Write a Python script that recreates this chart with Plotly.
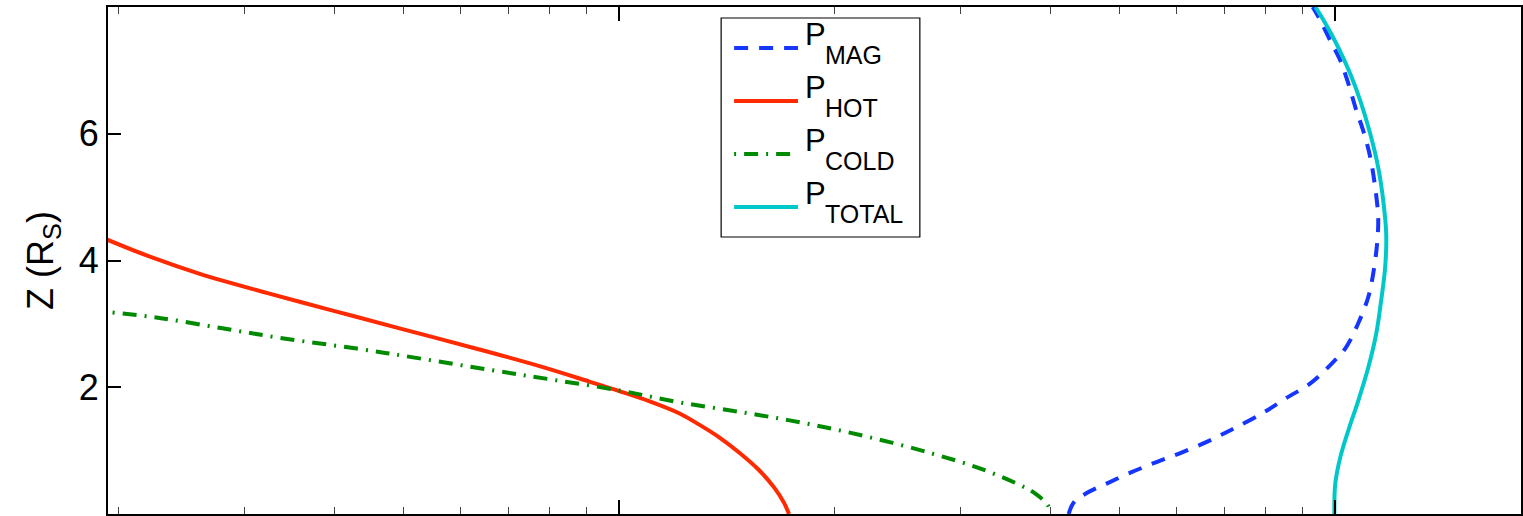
import plotly.graph_objects as go

# ---------------- data (pressure, arbitrary log units; z in R_S) ----------------
z_hot = [4.33, 4.06, 3.79, 3.49, 3.21, 2.93, 2.60, 2.33, 2.09, 1.94, 1.78, 1.59, 1.41, 1.21, 0.97,
         0.69, 0.42, 0.18, 0.0]
p_hot = [1.925e-4, 2.21e-4, 2.595e-4, 3.217e-4, 3.979e-4, 4.933e-4, 6.358e-4, 7.758e-4, 9.08e-4,
         1.00e-3, 1.101e-3, 1.212e-3, 1.293e-3, 1.379e-3, 1.470e-3, 1.568e-3, 1.645e-3, 1.698e-3, 1.726e-3]

z_cold = [3.18, 3.09, 2.93, 2.77, 2.61, 2.46, 2.27, 2.12, 1.95, 1.76, 1.59, 1.42, 1.21, 0.96, 0.72,
          0.48, 0.33, 0.14, 0.0]
p_cold = [1.96e-4, 2.29e-4, 2.79e-4, 3.40e-4, 4.30e-4, 5.23e-4, 6.63e-4, 8.06e-4, 1.00e-3, 1.216e-3,
          1.513e-3, 1.841e-3, 2.239e-3, 2.724e-3, 3.188e-3, 3.59e-3, 3.803e-3, 3.966e-3, 4.004e-3]

z_mag = [0.0, 0.18, 0.33, 0.48, 0.66, 0.82, 0.97, 1.15, 1.33, 1.60, 1.83, 2.06, 2.35, 2.61, 3.01,
         3.42, 3.80, 4.27, 4.68, 5.15, 5.63, 6.05, 6.37, 6.79, 7.16, 7.47, 7.79, 8.0]
p_mag = [4.243e-3, 4.312e-3, 4.496e-3, 4.794e-3, 5.194e-3, 5.628e-3, 6.099e-3, 6.650e-3, 7.161e-3,
         7.937e-3, 8.545e-3, 9.229e-3, 9.840e-3, 1.0325e-2, 1.0767e-2, 1.1117e-2, 1.130e-2, 1.144e-2,
         1.148e-2, 1.137e-2, 1.119e-2, 1.094e-2, 1.070e-2, 1.043e-2, 1.016e-2, 9.84e-3, 9.53e-3, 9.30e-3]

z_total = [0.0, 0.48, 0.89, 1.32, 1.79, 2.31, 2.85, 3.37, 3.89, 4.42, 4.94, 5.47, 6.00, 6.52, 6.95,
           7.36, 7.74, 8.0]
p_total = [9.97e-3, 1.000e-2, 1.016e-2, 1.043e-2, 1.077e-2, 1.112e-2, 1.141e-2, 1.159e-2, 1.174e-2,
           1.178e-2, 1.167e-2, 1.148e-2, 1.119e-2, 1.084e-2, 1.049e-2, 1.010e-2, 9.69e-3, 9.38e-3]

y_ticks = [2, 4, 6]
x_minor_ticks = [m * 10.0 ** e for e in (-4, -3) for m in range(2, 10)]

# ---------------- styles ----------------
FONT = "Liberation Sans, Arial, Helvetica, sans-serif"
C_MAG, C_HOT, C_COLD, C_TOT = "#1436ff", "#ff2a00", "#008a00", "#00c8c8"
D_MAG = "14px,11px"
D_COLD = "2px,8px,14px,8px"
LW = 4

series = [
    ("MAG", p_mag, z_mag, C_MAG, D_MAG),
    ("HOT", p_hot, z_hot, C_HOT, "solid"),
    ("COLD", p_cold, z_cold, C_COLD, D_COLD),
    ("TOTAL", p_total, z_total, C_TOT, "solid"),
]

fig = go.Figure()
draw_order = [1, 2, 0, 3]
for i in draw_order:
    name, xs, ys, col, dash = series[i]
    fig.add_trace(go.Scatter(x=xs, y=ys, mode="lines", name="P_" + name,
                             line=dict(color=col, width=LW, dash=dash, shape="spline", smoothing=1.0),
                             showlegend=False))

W, H = 1523, 516
L, R, T, B = 108, 1523, 7, 514


def fx(px):
    return (px - L) / (R - L)


def fy(py):
    return (B - py) / (B - T)


fig.update_layout(
    width=W, height=H,
    margin=dict(l=L, r=W - R, t=T, b=H - B, pad=0),
    plot_bgcolor="white", paper_bgcolor="white",
    font=dict(family=FONT, color="black"),
    showlegend=False,
    xaxis=dict(
        type="log", range=[-3.7141, -1.7406],
        showgrid=False, zeroline=False,
        showline=True, linecolor="black", linewidth=2, mirror="ticks",
        ticks="inside", ticklen=14, tickwidth=1.5, tickcolor="black",
        tickmode="array", tickvals=[1e-3, 1e-2], showticklabels=False,
        minor=dict(ticks="inside", ticklen=7, tickwidth=1.3, tickcolor="#444",
                   tickmode="array", tickvals=x_minor_ticks, showgrid=False),
    ),
    yaxis=dict(
        range=[0, 8], showgrid=False, zeroline=False,
        showline=True, linecolor="black", linewidth=2, mirror=True,
        ticks="inside", ticklen=13, tickwidth=1.5, tickcolor="black",
        tickmode="array", tickvals=y_ticks,
        tickfont=dict(size=36, family=FONT, color="black"),
        title=dict(text="Z (R<sub>S</sub>)", font=dict(size=36, family=FONT, color="black"), standoff=14),
    ),
)

# ---------------- legend box drawn by hand (MATLAB-style long line samples) ----------------
shapes = [dict(type="rect", xref="paper", yref="paper", x0=fx(722), x1=fx(921), y0=fy(237), y1=fy(18),
               line=dict(color="black", width=1.2), fillcolor="white", layer="above")]
annotations = []
row_y = [48, 101, 154, 207]
for (name, xs, ys, col, dash), ly in zip(series, row_y):
    shapes.append(dict(type="line", xref="paper", yref="paper", x0=fx(735), x1=fx(799), y0=fy(ly), y1=fy(ly),
                       line=dict(color=col, width=LW, dash=dash), layer="above"))
    annotations.append(dict(xref="paper", yref="paper", x=fx(804), y=fy(ly - 14), xanchor="left",
                            yanchor="middle", text="P", showarrow=False,
                            font=dict(size=31, family=FONT, color="black")))
    annotations.append(dict(xref="paper", yref="paper", x=fx(824), y=fy(ly + 7), xanchor="left",
                            yanchor="middle", text=name, showarrow=False,
                            font=dict(size=25, family=FONT, color="black")))
fig.update_layout(shapes=shapes, annotations=annotations)

fig.write_html("out.html")
